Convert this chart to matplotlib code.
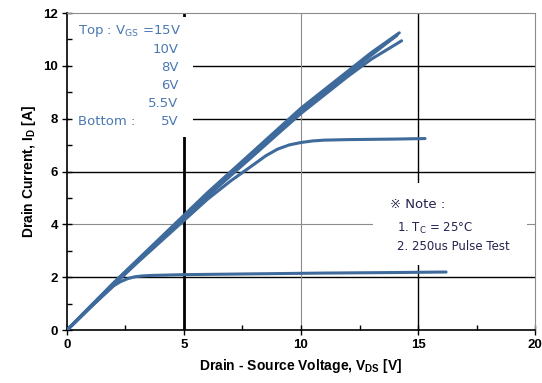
import matplotlib
matplotlib.use("Agg")
import matplotlib.pyplot as plt
from matplotlib.patches import Rectangle

# Output characteristics (VDS [V], ID [A])
vds_15v = [0, 1, 2, 3, 4, 5, 6, 7, 8, 9, 10, 11, 12, 13, 14.2]
id_15v = [0, 0.9, 1.8, 2.65, 3.5, 4.35, 5.2, 6.0, 6.8, 7.6, 8.4, 9.1, 9.8, 10.5, 11.25]

vds_10v = [0, 1, 2, 3, 4, 5, 6, 7, 8, 9, 10, 11, 12, 13, 14.1]
id_10v = [0, 0.88, 1.78, 2.62, 3.47, 4.3, 5.15, 5.95, 6.75, 7.55, 8.32, 9.05, 9.75, 10.45, 11.15]

vds_8v = [0, 1, 2, 3, 4, 5, 6, 7, 8, 9, 10, 11, 12, 13, 14.0]
id_8v = [0, 0.9, 1.75, 2.6, 3.45, 4.28, 5.1, 5.9, 6.7, 7.5, 8.28, 9.0, 9.7, 10.4, 11.1]

vds_6v = [0, 1, 2, 3, 4, 5, 6, 7, 8, 9, 10, 11, 12, 13, 14.3]
id_6v = [0, 0.87, 1.74, 2.58, 3.42, 4.24, 5.06, 5.85, 6.63, 7.42, 8.2, 8.9, 9.6, 10.25, 10.95]

vds_5v5 = [0, 1, 2, 3, 4, 5, 6, 7, 8, 8.5, 9, 9.5, 10, 10.5, 11, 12, 13, 14, 15.3]
id_5v5 = [0, 0.87, 1.72, 2.55, 3.35, 4.15, 4.95, 5.65, 6.28, 6.6, 6.85, 7.01, 7.1, 7.16, 7.19,
          7.21, 7.22, 7.23, 7.25]

vds_5v = [0, 1, 2, 2.3, 2.6, 2.9, 3.2, 3.6, 5, 8, 11, 14, 16.2]
id_5v = [0, 0.86, 1.68, 1.84, 1.95, 2.02, 2.05, 2.07, 2.1, 2.13, 2.16, 2.18, 2.2]

curves = [
    (vds_15v, id_15v),
    (vds_10v, id_10v),
    (vds_8v, id_8v),
    (vds_6v, id_6v),
    (vds_5v5, id_5v5),
    (vds_5v, id_5v),
]

legend_lines = ["10V", "8V", "6V", "5.5V"]

CURVE_COLOR = "#3F6A9C"
LEGEND_COLOR = "#4A78B2"
NOTE_COLOR = "#23234F"

fig = plt.figure(figsize=(5.42, 3.83), dpi=100)
ax = fig.add_axes([0.1236, 0.138, 0.8635, 0.828])

ax.set_xlim(0, 20)
ax.set_ylim(0, 12)

# Uneven grid, as on the scanned datasheet
for y, color, lw in [(2, "black", 1.0), (4, "#8C8C8C", 0.8), (6, "black", 1.0),
                     (8, "black", 1.0), (10, "black", 1.0)]:
    ax.axhline(y, color=color, linewidth=lw, zorder=1)
for x, color, lw in [(5, "black", 2.0), (10, "#8C8C8C", 0.8), (15, "black", 1.0)]:
    ax.axvline(x, color=color, linewidth=lw, zorder=1)

# White areas behind the two text blocks hide the grid there
ax.add_patch(Rectangle((0.004, 0.609), 0.265, 0.378, transform=ax.transAxes,
                       facecolor="white", edgecolor="none", zorder=1.5))
ax.add_patch(Rectangle((0.654, 0.205), 0.329, 0.259, transform=ax.transAxes,
                       facecolor="white", edgecolor="none", zorder=1.5))

for vds, current in curves:
    ax.plot(vds, current, color=CURVE_COLOR, linewidth=2.2,
            solid_capstyle="round", solid_joinstyle="round", zorder=3)

ax.set_xticks([0, 5, 10, 15, 20])
ax.set_yticks([0, 2, 4, 6, 8, 10, 12])
ax.set_xticks([2.5, 7.5, 12.5, 17.5], minor=True)
ax.set_yticks([1, 3, 5, 7, 9, 11], minor=True)
ax.tick_params(which="major", direction="inout", length=7, width=1, colors="black",
               labelsize=9.5, pad=3)
ax.tick_params(which="minor", direction="in", length=3.5, width=1)
for label in ax.get_xticklabels() + ax.get_yticklabels():
    label.set_fontfamily("Liberation Sans")
    label.set_fontweight("bold")

ax.spines["top"].set_color("#8C8C8C")
ax.spines["right"].set_color("#8C8C8C")
ax.spines["left"].set_linewidth(1.2)
ax.spines["bottom"].set_linewidth(1.2)

ax.set_xlabel("Drain - Source Voltage, V$_{\\mathregular{DS}}$ [V]",
              fontfamily="Liberation Sans", fontweight="bold", fontsize=10, labelpad=4)
ax.set_ylabel("Drain Current, I$_{\\mathregular{D}}$ [A]",
              fontfamily="Liberation Sans", fontweight="bold", fontsize=10, labelpad=4)

# Gate voltage legend, top left
ax.text(0.023, 0.942, "Top : V$_{\\mathregular{GS}}$ =15V", transform=ax.transAxes,
        color=LEGEND_COLOR, fontsize=9.5, ha="left", va="center", zorder=4)
for i, text in enumerate(legend_lines):
    ax.text(0.238, 0.885 - i * 0.057, text, transform=ax.transAxes,
            color=LEGEND_COLOR, fontsize=9.5, ha="right", va="center", zorder=4)
ax.text(0.023, 0.657, "Bottom :", transform=ax.transAxes,
        color=LEGEND_COLOR, fontsize=9.5, ha="left", va="center", zorder=4)
ax.text(0.238, 0.657, "5V", transform=ax.transAxes,
        color=LEGEND_COLOR, fontsize=9.5, ha="right", va="center", zorder=4)

# Test conditions note
note_font = ["DejaVu Sans", "Noto Sans CJK JP"]
ax.text(0.69, 0.395, "\u203b Note :", transform=ax.transAxes, color=NOTE_COLOR,
        fontsize=9.5, family=note_font, ha="left", va="center", zorder=4)
ax.text(0.705, 0.322, "1. T$_{\\mathregular{C}}$ = 25\u00b0C", transform=ax.transAxes,
        color=NOTE_COLOR, fontsize=8.5, ha="left", va="center", zorder=4)
ax.text(0.705, 0.265, "2. 250us Pulse Test", transform=ax.transAxes,
        color=NOTE_COLOR, fontsize=8.5, ha="left", va="center", zorder=4)

fig.savefig("out.png", dpi=100)
